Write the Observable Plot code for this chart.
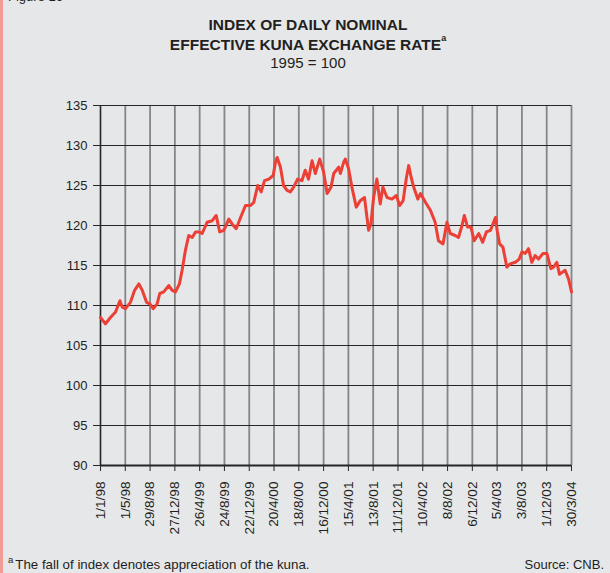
<!DOCTYPE html>
<html>
<head>
<meta charset="utf-8">
<script src="https://cdn.jsdelivr.net/npm/d3@7"></script>
<script src="https://cdn.jsdelivr.net/npm/@observablehq/plot@0.6"></script>
<style>
  html, body { margin: 0; padding: 0; background: #e6e7e9; }
  #fig { position: relative; width: 610px; height: 573px; background: #e6e7e9; overflow: hidden;
         font-family: "Liberation Sans", Arial, Helvetica, sans-serif; color: #231f20; }
  #edge { position: absolute; left: 0; top: 0; width: 3px; height: 573px; background: #f19c97; }
  .t { position: absolute; left: 3px; width: 610px; text-align: center; white-space: nowrap; }
  #t1, #t2 { font-weight: bold; font-size: 15.5px; line-height: 18px; }
  #t1 { top: 15.6px; }
  #t2 { top: 35.6px; }
  #t3 { top: 54px; font-size: 15px; line-height: 18px; }
  sup { font-size: 9px; vertical-align: 0; position: relative; top: -9px; font-weight: bold; }
  #chart { position: absolute; left: 0; top: 95px; }
  #note { position: absolute; left: 8px; top: 557px; font-size: 13.3px; line-height: 15px; white-space: nowrap; }
  #note sup { font-size: 9.5px; top: -6px; font-weight: normal; margin-right: 2px; }
  #src { position: absolute; right: 6px; top: 557px; font-size: 13px; line-height: 15px; }
  #fignum { position: absolute; left: 8px; top: -10px; font-size: 13px; line-height: 14px; }
</style>
</head>
<body>
<div id="fig">
  <div id="edge"></div>
  <div id="fignum">Figure 16</div>
  <div class="t" id="t1">INDEX OF DAILY NOMINAL</div>
  <div class="t" id="t2">EFFECTIVE KUNA EXCHANGE RATE<sup>a</sup></div>
  <div class="t" id="t3">1995 = 100</div>
  <div id="chart"></div>
  <div id="note"><sup>a</sup>The fall of index denotes appreciation of the kuna.</div>
  <div id="src">Source: CNB.</div>
</div>
<script>
// ---- data ----
const dates = [
  "1998-01-01","1998-01-25","1998-02-18","1998-03-15","1998-04-05","1998-04-16","1998-05-02","1998-05-26",
  "1998-06-15","1998-07-06","1998-07-22","1998-08-12","1998-08-28","1998-09-13","1998-10-02","1998-10-15",
  "1998-11-03","1998-11-28","1998-12-14","1998-12-30","1999-01-18","1999-01-31","1999-02-16","1999-03-04",
  "1999-03-21","1999-04-06","1999-04-22","1999-05-08","1999-06-01","1999-06-26","1999-07-15","1999-08-01",
  "1999-08-21","1999-09-14","1999-09-30","1999-10-20","1999-11-10","1999-12-04","1999-12-28","2000-01-13",
  "2000-02-01","2000-02-18","2000-03-05","2000-03-26","2000-04-16","2000-04-27","2000-05-05","2000-05-21",
  "2000-06-05","2000-06-22","2000-07-08","2000-07-24","2000-08-12","2000-09-02","2000-09-18","2000-10-04",
  "2000-10-21","2000-11-06","2000-11-27","2000-12-16","2001-01-02","2001-01-21","2001-02-03","2001-02-27",
  "2001-03-07","2001-03-23","2001-03-31","2001-04-16","2001-05-02","2001-05-23","2001-06-11","2001-07-02",
  "2001-07-14","2001-07-22","2001-08-02","2001-08-15","2001-08-31","2001-09-16","2001-09-29","2001-10-19",
  "2001-11-12","2001-12-03","2001-12-19","2002-01-05","2002-01-21","2002-02-01","2002-02-13","2002-02-25",
  "2002-03-17","2002-03-30","2002-04-23","2002-05-17","2002-06-09","2002-06-25","2002-07-17","2002-08-05",
  "2002-08-21","2002-09-14","2002-09-30","2002-10-17","2002-10-28","2002-11-13","2002-11-29","2002-12-15",
  "2003-01-06","2003-01-25","2003-02-12","2003-03-04","2003-03-28","2003-04-05","2003-04-17","2003-05-03",
  "2003-05-22","2003-06-07","2003-07-02","2003-07-21","2003-08-03","2003-08-19","2003-09-04","2003-09-20",
  "2003-10-06","2003-10-22","2003-11-13","2003-12-02","2003-12-21","2004-01-03","2004-01-19","2004-02-01",
  "2004-02-17","2004-02-28","2004-03-16","2004-03-30"
];
const index = [
  108.5,107.7,108.5,109.2,110.6,109.8,109.6,110.4,
  111.9,112.7,111.9,110.4,110.2,109.6,110.2,111.5,
  111.7,112.5,111.9,111.7,112.7,114.4,116.9,118.75,
  118.5,119.2,119.2,119.0,120.4,120.6,121.25,119.2,
  119.4,120.8,120.2,119.6,121.0,122.5,122.5,122.9,
  125.0,124.2,125.6,125.8,126.25,127.9,128.5,127.3,
  125.0,124.4,124.2,124.8,125.8,125.6,126.9,125.8,
  128.1,126.5,128.3,126.7,124.0,124.8,126.5,127.3,
  126.5,127.9,128.3,127.1,124.8,122.3,123.1,123.5,
  121.0,119.4,120.2,123.5,125.8,122.7,124.8,123.5,
  123.3,123.75,122.5,123.1,126.0,127.5,126.0,124.8,
  123.3,124.0,122.9,121.9,120.4,118.1,117.7,120.4,
  119.0,118.75,118.5,120.0,121.25,119.8,119.8,118.1,
  119.0,117.9,119.2,119.4,121.0,119.4,117.7,117.3,
  114.8,115.2,115.4,115.8,116.7,116.5,117.1,115.4,
  116.25,115.8,116.5,116.5,114.6,114.8,115.4,113.9,
  114.2,114.4,113.3,111.7
];
const tickDates = [
  "1998-01-01","1998-05-01","1998-08-29","1998-12-27","1999-04-26","1999-08-24","1999-12-22",
  "2000-04-20","2000-08-18","2000-12-16","2001-04-15","2001-08-13","2001-12-11","2002-04-10",
  "2002-08-08","2002-12-06","2003-04-05","2003-08-03","2003-12-01","2004-03-30"
];
const tickLabels = [
  "1/1/98","1/5/98","29/8/98","27/12/98","26/4/99","24/8/99","22/12/99",
  "20/4/00","18/8/00","16/12/00","15/4/01","13/8/01","11/12/01","10/4/02",
  "8/8/02","6/12/02","5/4/03","3/8/03","1/12/03","30/3/04"
];
const yTicks = [90, 95, 100, 105, 110, 115, 120, 125, 130, 135];

// ---- build ----
const series = dates.map((d, i) => ({date: new Date(d), value: index[i]}));
const xTicks = tickDates.map(d => new Date(d));
const labelOf = new Map(xTicks.map((d, i) => [+d, tickLabels[i]]));

const chart = Plot.plot({
  width: 610,
  height: 445,
  marginTop: 10,
  marginBottom: 75,
  marginLeft: 100,
  marginRight: 39,
  style: {background: "transparent", fontFamily: "'Liberation Sans', Arial, sans-serif", color: "#231f20"},
  x: {type: "utc", domain: [xTicks[0], xTicks[xTicks.length - 1]]},
  y: {domain: [90, 135]},
  marks: [
    Plot.ruleX(xTicks.slice(1), {stroke: "#858585", strokeWidth: 1.8}),
    Plot.ruleY(yTicks, {stroke: "#262626", strokeWidth: 1.1}),
    Plot.ruleX([xTicks[0]], {stroke: "#262626", strokeWidth: 1.6}),
    Plot.ruleY([90], {stroke: "#262626", strokeWidth: 2}),
    Plot.lineY(series, {x: "date", y: "value", stroke: "#ec3f35", strokeWidth: 3, strokeLinejoin: "round"}),
    Plot.axisY({ticks: yTicks, tickSize: 7, tickPadding: 6, fontSize: 13, label: null, stroke: "#262626"}),
    Plot.axisX({ticks: xTicks, tickFormat: d => labelOf.get(+d), tickRotate: -90, tickSize: 6,
                tickPadding: 10, fontSize: 13.6, label: null, stroke: "#262626"})
  ]
});
document.getElementById("chart").appendChild(chart);
</script>
</body>
</html>
